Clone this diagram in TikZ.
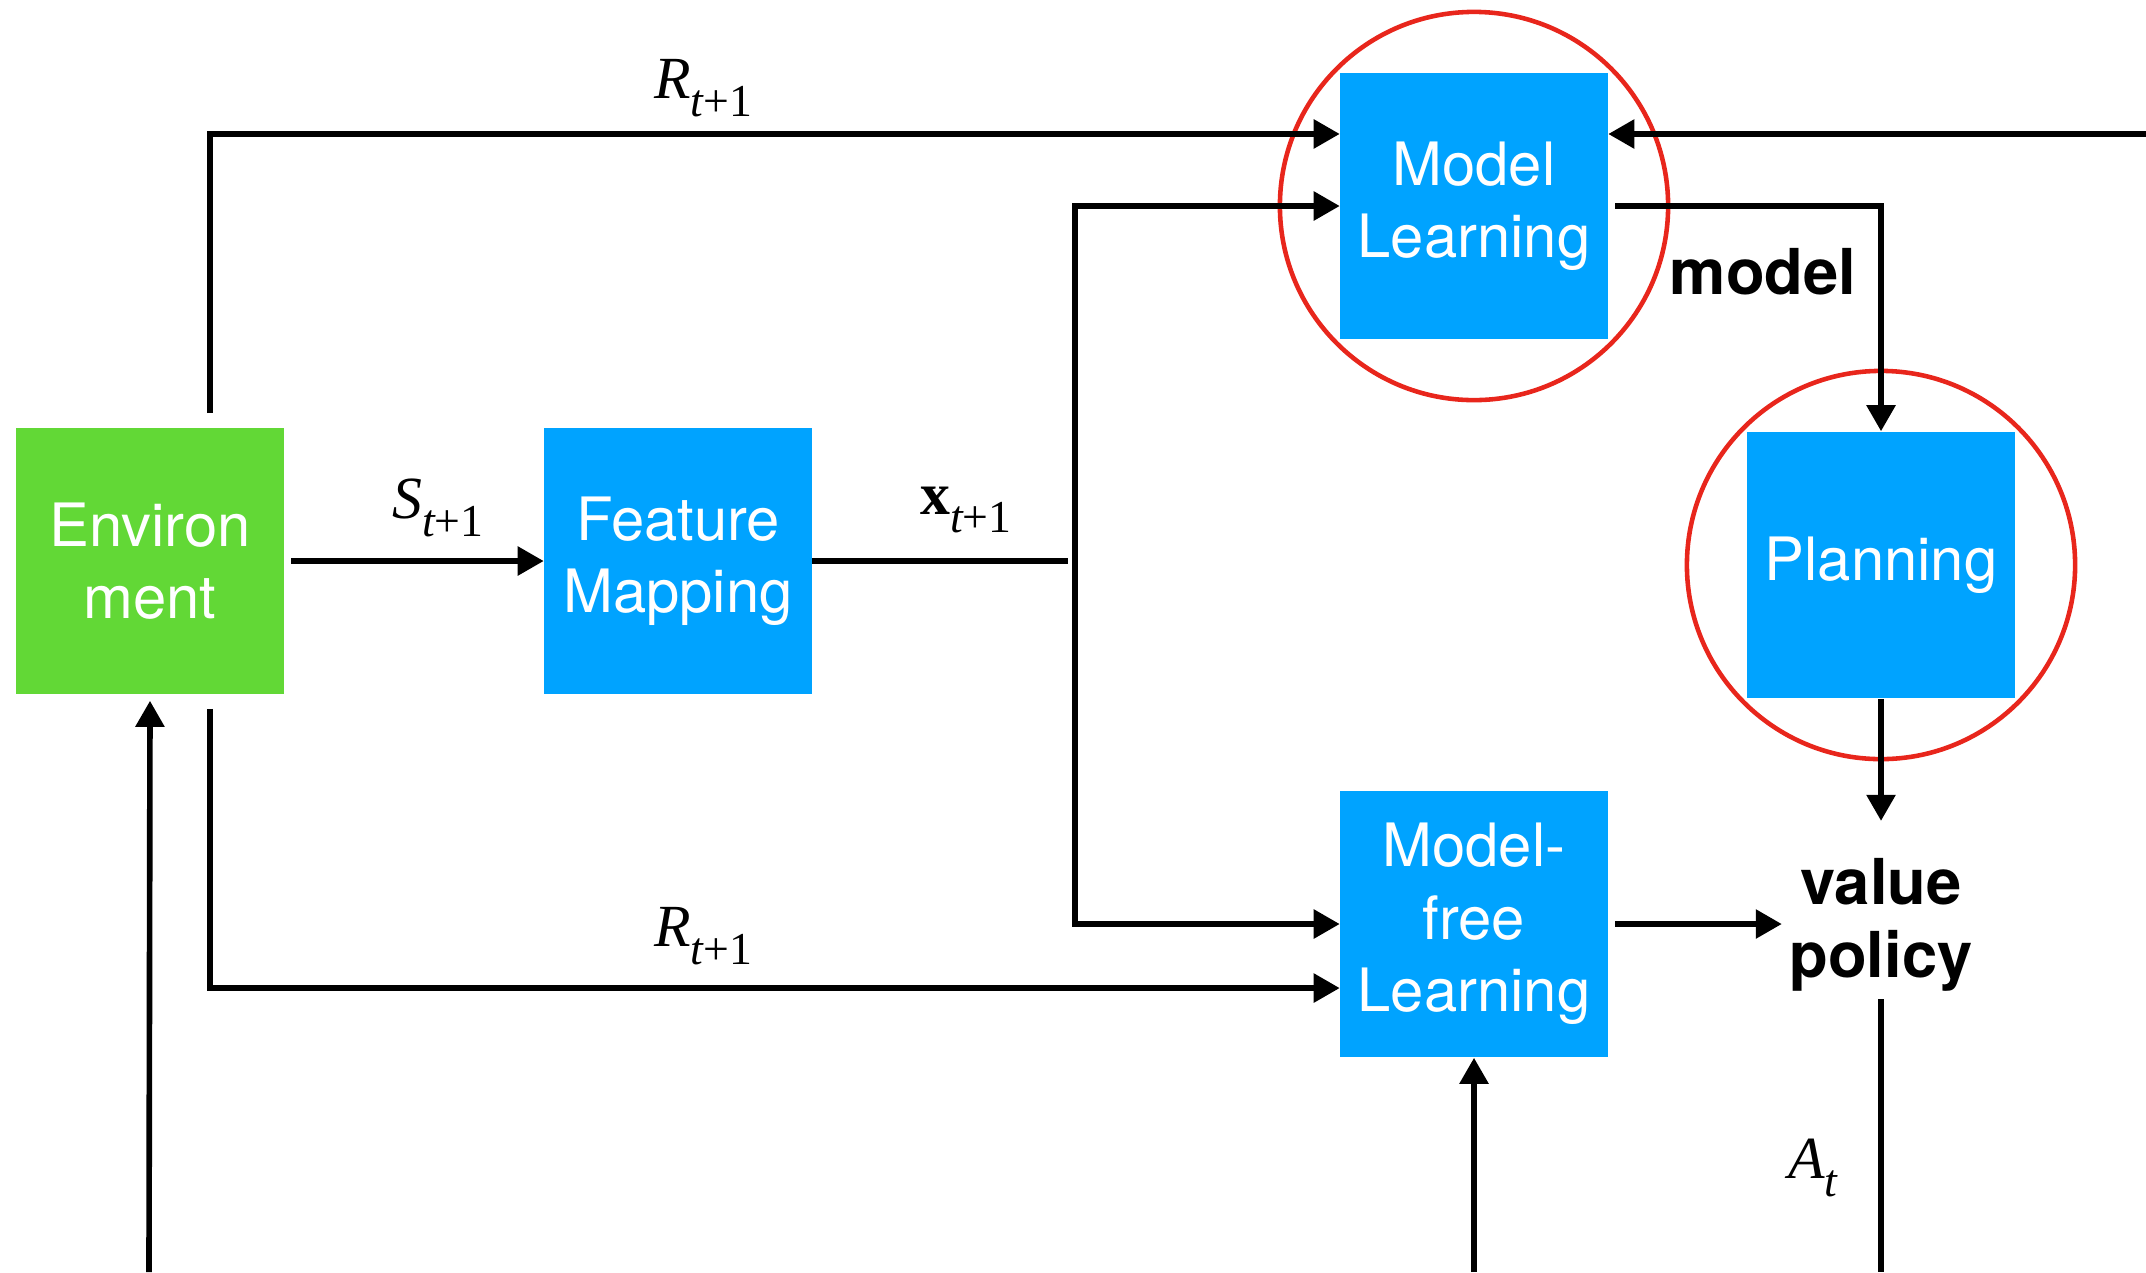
\documentclass[tikz,border=0pt]{standalone}
\usepackage{fontspec}
\setmainfont{TeX Gyre Heros}
\newfontfamily\lserif{Liberation Serif}
\usetikzlibrary{arrows.meta,positioning,calc}
\definecolor{envgreen}{HTML}{62D836}
\definecolor{boxblue}{HTML}{00A3FF}
\definecolor{ringred}{HTML}{E8261C}
\newcommand{\varlab}[2]{{#1}\raisebox{-5pt}{\fontsize{13}{13}\selectfont\itshape #2}}
\tikzset{>={Triangle[length=0.26cm,width=0.28cm]},
  block/.style={fill=boxblue,text=white,minimum width=2.67cm,minimum height=2.66cm,
    align=center,inner sep=0pt,font=\fontsize{17}{20.6}\selectfont},
  envblock/.style={block,fill=envgreen},
  ring/.style={circle,draw=ringred,line width=1.3pt,minimum size=3.88cm,inner sep=0pt},
  flow/.style={->,draw=black,line width=1.6pt},
  wire/.style={draw=black,line width=1.6pt},
  mlabel/.style={font=\fontsize{17}{20}\selectfont\lserif,inner sep=1pt},
  blabel/.style={font=\fontsize{18}{20.7}\selectfont\bfseries,align=center,inner sep=2pt}}
\begin{document}
\begin{tikzpicture}[x=0.01cm,y=-0.01cm]
\useasboundingbox (0,0) rectangle (2146,1272);
% blocks
\node[envblock] (env) at (150,561) {Environ\\ment};
\node[block] (feat) at (678,561) {Feature\\Mapping};
\node[block] (mlearn) at (1474,206) {Model\\Learning};
\node[block] (plan) at (1881,565) {Planning};
\node[block] (mfree) at (1474,924) {Model-\\free\\Learning};
\node[blabel] (value) at (1881,925) {value\\policy};
\node[ring] (mring) at (mlearn) {};\node[ring] (pring) at (plan) {};
% free ends
\coordinate (split) at (1075,561);\coordinate (rin) at (2146,134);
\coordinate (ein) at (149,1272);\coordinate (fin) at (1474,1272);\coordinate (aout) at (1881,1272);
% connectors
\draw[flow,shorten <=4pt] ([xshift=6mm]env.north) |- ([yshift=7.2mm]mlearn.west);
\draw[flow,shorten <=4pt] ([xshift=6mm]env.south) |- ([yshift=-6.4mm]mfree.west);
\draw[flow,shorten <=2pt] (env.east) -- (feat.west);
\draw[wire,shorten >=2pt] (feat.east) -- (split);
\draw[flow] (split) |- (mlearn.west);\draw[flow] (split) |- (mfree.west);
\draw[flow] (rin) -- (mlearn.east |- rin);
\draw[flow,shorten <=2pt] (mlearn.east) -| (plan.north);
\draw[flow] (plan.south) -- ([yshift=0.3cm]value.north);
\draw[flow,shorten <=2pt] (mfree.east) -- (value.west |- mfree.east);
\draw[wire] (value.south) -- (aout);
\draw[flow] (fin) -- (mfree.south);
\draw[flow] (ein) -- ([yshift=-0.06cm]env.south);
% labels
\node[mlabel] (rtop) at (703,88) {\varlab{\itshape R}{t\upshape+1}};
\node[mlabel] (rbot) at (703,936) {\varlab{\itshape R}{t\upshape+1}};
\node[mlabel] (slab) at (438,508) {\varlab{\itshape S}{t\upshape+1}};
\node[mlabel] (xlab) at (966,510) {\varlab{\bfseries x}{t\upshape+1}};
\node[mlabel] (alab) at (1813,1168) {\varlab{\itshape A}{t}};
\node[blabel] (mlab) at (1763,272) {model};
\end{tikzpicture}
\end{document}
